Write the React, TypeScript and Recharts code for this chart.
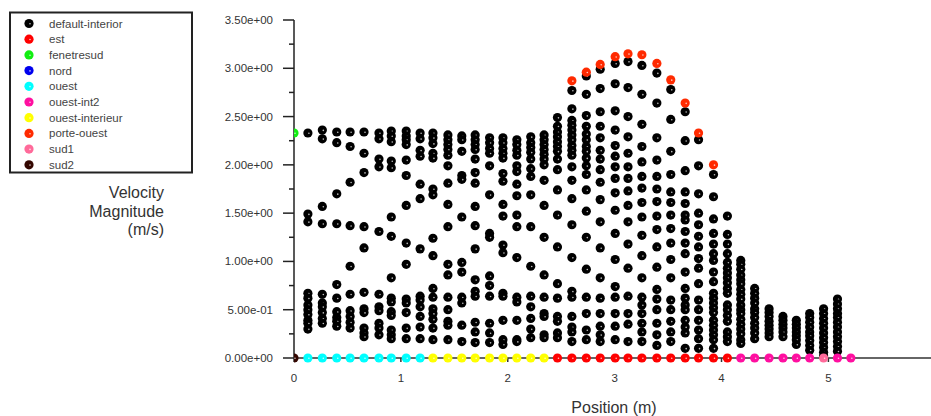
import React from "react";
import { ScatterChart, Scatter, XAxis, YAxis } from "recharts";

// x positions (m) of the sampling columns
const columnX = [
  0.13, 0.265, 0.4, 0.525, 0.655, 0.795, 0.91, 1.05, 1.18, 1.3, 1.44, 1.57, 1.695,
  1.83, 1.955, 2.085, 2.215, 2.34, 2.465, 2.6, 2.735, 2.865, 3.005, 3.125, 3.255,
  3.395, 3.525, 3.66, 3.785, 3.925, 4.055, 4.18, 4.31, 4.445, 4.575, 4.7, 4.825,
  4.955, 5.085,
];

// default-interior velocity magnitudes (m/s), one list per column
const interiorVelocity: number[][] = [
  [2.33, 1.49, 1.41, 0.67, 0.62, 0.55, 0.5, 0.45, 0.39, 0.36, 0.3],
  [2.36, 2.27, 1.57, 1.39, 0.66, 0.57, 0.53, 0.47, 0.41, 0.36],
  [2.34, 2.23, 1.7, 1.39, 0.76, 0.62, 0.48, 0.42, 0.38, 0.33],
  [2.34, 2.19, 1.82, 1.37, 0.95, 0.66, 0.49, 0.43, 0.37, 0.31],
  [2.34, 2.12, 1.92, 1.36, 1.14, 0.68, 0.51, 0.47, 0.31, 0.26, 0.22],
  [2.33, 2.27, 2.06, 1.98, 1.31, 0.66, 0.53, 0.49, 0.36, 0.31, 0.24],
  [2.35, 2.3, 2.24, 2.04, 1.97, 1.46, 1.26, 0.83, 0.62, 0.58, 0.48, 0.44, 0.29, 0.24, 0.2],
  [2.35, 2.3, 2.26, 2.21, 2.05, 1.89, 1.58, 1.19, 0.97, 0.61, 0.57, 0.47, 0.31, 0.2],
  [2.33, 2.27, 2.15, 2.09, 1.8, 1.65, 1.13, 0.64, 0.6, 0.53, 0.43, 0.32, 0.2],
  [2.33, 2.28, 2.22, 2.12, 2.07, 1.75, 1.69, 1.24, 1.06, 0.72, 0.63, 0.51, 0.46, 0.4, 0.31, 0.19],
  [2.31, 2.26, 2.21, 2.16, 2.1, 1.99, 1.81, 1.59, 1.36, 0.97, 0.86, 0.63, 0.5, 0.38, 0.34, 0.19],
  [2.3, 2.26, 2.14, 1.89, 1.85, 1.46, 0.99, 0.89, 0.63, 0.57, 0.34, 0.17],
  [2.31, 2.26, 2.21, 2.16, 2.06, 1.92, 1.81, 1.57, 1.37, 1.13, 0.81, 0.69, 0.64, 0.37, 0.27, 0.16],
  [2.28, 2.23, 2.17, 2.12, 1.99, 1.69, 1.29, 1.25, 0.85, 0.75, 0.64, 0.36, 0.26, 0.16],
  [2.28, 2.23, 2.17, 2.12, 2.07, 1.91, 1.83, 1.59, 1.47, 1.17, 1.09, 0.67, 0.64, 0.39, 0.19, 0.14],
  [2.26, 2.21, 2.15, 2.1, 1.99, 1.93, 1.8, 1.68, 1.48, 1.36, 1.04, 0.63, 0.58, 0.39, 0.19, 0.17],
  [2.29, 2.23, 2.18, 2.13, 2.06, 1.96, 1.88, 1.69, 1.36, 0.95, 0.64, 0.53, 0.41, 0.3, 0.21],
  [2.31, 2.26, 2.21, 2.16, 2.11, 2.06, 2.0, 1.84, 1.58, 1.25, 0.86, 0.63, 0.46, 0.43, 0.24, 0.21],
  [2.49, 2.4, 2.34, 2.29, 2.24, 2.19, 2.14, 2.06, 1.95, 1.74, 1.48, 1.15, 0.77, 0.62, 0.43, 0.38, 0.26, 0.21],
  [2.77, 2.58, 2.46, 2.41, 2.36, 2.31, 2.26, 2.2, 2.15, 2.1, 1.98, 1.84, 1.65, 1.38, 1.04, 0.69, 0.63, 0.43, 0.32, 0.27, 0.17],
  [2.92, 2.73, 2.51, 2.4, 2.32, 2.26, 2.19, 2.14, 2.07, 1.99, 1.9, 1.74, 1.52, 1.25, 0.92, 0.63, 0.46, 0.29, 0.19],
  [2.99, 2.79, 2.55, 2.4, 2.28, 2.15, 2.06, 1.95, 1.82, 1.64, 1.41, 1.14, 0.83, 0.62, 0.46, 0.33, 0.24, 0.17],
  [3.05, 2.84, 2.56, 2.36, 2.2, 2.09, 1.98, 1.86, 1.71, 1.53, 1.29, 1.02, 0.74, 0.63, 0.46, 0.33, 0.19],
  [3.07, 2.8, 2.5, 2.29, 2.12, 1.98, 1.86, 1.73, 1.58, 1.41, 1.18, 0.93, 0.64, 0.46, 0.35, 0.17],
  [3.03, 2.73, 2.42, 2.19, 2.03, 1.88, 1.76, 1.61, 1.46, 1.27, 1.06, 0.83, 0.63, 0.55, 0.46, 0.36, 0.27, 0.17],
  [2.95, 2.64, 2.28, 2.05, 1.88, 1.75, 1.62, 1.47, 1.33, 1.15, 0.94, 0.71, 0.61, 0.5, 0.36, 0.24, 0.13],
  [2.78, 2.47, 2.14, 1.9, 1.72, 1.61, 1.48, 1.34, 1.19, 1.02, 0.83, 0.6, 0.5, 0.38, 0.27, 0.17],
  [2.55, 2.25, 1.94, 1.72, 1.6, 1.48, 1.43, 1.31, 1.19, 1.08, 0.89, 0.72, 0.62, 0.55, 0.5, 0.39, 0.32, 0.26, 0.1],
  [2.26, 1.99, 1.7, 1.5, 1.38, 1.26, 1.15, 1.03, 0.93, 0.77, 0.6, 0.5, 0.39, 0.29, 0.2, 0.1],
  [1.9, 1.67, 1.44, 1.29, 1.18, 1.08, 1.01, 0.89, 0.79, 0.67, 0.62, 0.57, 0.52, 0.47, 0.39, 0.34, 0.29, 0.24, 0.19, 0.1],
  [1.47, 1.28, 1.18, 1.08, 0.99, 0.93, 0.88, 0.83, 0.78, 0.72, 0.67, 0.55, 0.5, 0.44, 0.38, 0.27, 0.22, 0.17],
  [1.01, 0.97, 0.92, 0.86, 0.81, 0.77, 0.71, 0.66, 0.61, 0.55, 0.5, 0.46, 0.4, 0.35, 0.3, 0.25, 0.19, 0.15],
  [0.72, 0.67, 0.62, 0.57, 0.51, 0.47, 0.42, 0.36, 0.31, 0.26, 0.2],
  [0.51, 0.47, 0.43, 0.38, 0.34, 0.3, 0.26, 0.22],
  [0.43, 0.39, 0.35, 0.31, 0.27, 0.22],
  [0.39, 0.35, 0.31, 0.27, 0.23, 0.19, 0.14],
  [0.46, 0.42, 0.37, 0.32, 0.27, 0.23, 0.18, 0.13, 0.08],
  [0.51, 0.46, 0.41, 0.36, 0.31, 0.26, 0.21, 0.16, 0.11, 0.06, 0.02],
  [0.61, 0.56, 0.51, 0.46, 0.42, 0.37, 0.32, 0.27, 0.22, 0.17, 0.12, 0.07],
];

// porte-ouest
const porteOuestX = [2.6, 2.735, 2.865, 3.005, 3.125, 3.255, 3.395, 3.525, 3.66, 3.785, 3.925];
const porteOuestY = [2.87, 2.96, 3.04, 3.12, 3.15, 3.14, 3.05, 2.88, 2.64, 2.33, 2.0];

// wall zones (zero velocity)
const ouestX = [0.13, 0.265, 0.4, 0.525, 0.655, 0.795, 0.91, 1.05, 1.18];
const ouestInterieurX = [1.3, 1.44, 1.57, 1.695, 1.83, 1.955, 2.085, 2.215, 2.34];
const estX = [2.465, 2.6, 2.735, 2.865, 3.005, 3.125, 3.255, 3.395, 3.525, 3.66, 3.785, 3.925, 4.055];
const ouestInt2X = [4.18, 4.31, 4.445, 4.575, 4.7, 4.825, 5.085, 5.21];
const sud1X = [4.955];
const sud2X = [0];
const nordX: number[] = [];
const fenetresudX = [0];
const fenetresudY = [2.33];

const xTicks = [0, 1, 2, 3, 4, 5];
const yTicks = [0, 0.25, 0.5, 0.75, 1, 1.25, 1.5, 1.75, 2, 2.25, 2.5, 2.75, 3, 3.25, 3.5];

const pts = (xs: number[], ys?: number[]) => xs.map((x, i) => ({ x, y: ys ? ys[i] : 0 }));

const interiorData = columnX.flatMap((x, i) => interiorVelocity[i].map((y) => ({ x, y })));

const legendItems = [
  { name: "default-interior", color: "#000000" },
  { name: "est", color: "#ff0000" },
  { name: "fenetresud", color: "#11ee11" },
  { name: "nord", color: "#0000ee" },
  { name: "ouest", color: "#00ffff" },
  { name: "ouest-int2", color: "#ff0fa0" },
  { name: "ouest-interieur", color: "#ffff00" },
  { name: "porte-ouest", color: "#ff2a00" },
  { name: "sud1", color: "#ff6a9a" },
  { name: "sud2", color: "#330600" },
];
const colorOf = (n: string) => legendItems.find((l) => l.name === n)!.color;

const FONT = "'Liberation Sans', Arial, sans-serif";

const sci = (v: number) => {
  if (v === 0) return "0.00e+00";
  const e = Math.floor(Math.log10(v) + 1e-9);
  const m = v / Math.pow(10, e);
  return `${m.toFixed(2)}e${e < 0 ? "-" : "+"}${String(Math.abs(e)).padStart(2, "0")}`;
};

const Marker = ({ cx, cy, fill }: any) => (
  <g>
    <circle cx={cx} cy={cy} r={4.6} fill={fill} />
    <circle cx={cx + 1} cy={cy + 0.3} r={0.8} fill="#fff" opacity={0.75} />
  </g>
);

const YTick = ({ x, y, payload }: any) => {
  const v = payload.value as number;
  const major = Math.abs(v * 2 - Math.round(v * 2)) < 1e-6;
  return (
    <g>
      <line x1={x - (major ? 11 : 5)} x2={x} y1={y} y2={y} stroke="#222" strokeWidth={1.5} />
      {major && (
        <text x={x - 21} y={y} dy="0.35em" textAnchor="end" fontSize={11.5} fontFamily={FONT} fill="#333">
          {sci(v)}
        </text>
      )}
    </g>
  );
};

export default function App() {
  return (
    <div style={{ position: "absolute", left: 0, top: 0, width: 931, height: 416, background: "#fff" }}>
      <ScatterChart width={931} height={416} margin={{ top: 20, right: 0, bottom: 0, left: 0 }}>
        <XAxis
          type="number"
          dataKey="x"
          domain={[0, 5.96]}
          ticks={xTicks}
          allowDataOverflow
          height={58}
          stroke="#333"
          strokeWidth={1.5}
          tickSize={4}
          tickMargin={12}
          tick={{ fontSize: 11.5, fontFamily: FONT, fill: "#333" }}
        />
        <YAxis
          type="number"
          dataKey="y"
          domain={[0, 3.5]}
          ticks={yTicks}
          width={294}
          stroke="#222"
          strokeWidth={1.5}
          tickLine={false}
          tickSize={0}
          tickMargin={0}
          tick={<YTick />}
          interval={0}
        />
        <Scatter data={interiorData} fill={colorOf("default-interior")} shape={<Marker />} isAnimationActive={false} />
        <Scatter data={pts(porteOuestX, porteOuestY)} fill={colorOf("porte-ouest")} shape={<Marker />} isAnimationActive={false} />
        <Scatter data={pts(fenetresudX, fenetresudY)} fill={colorOf("fenetresud")} shape={<Marker />} isAnimationActive={false} />
        <Scatter data={pts(nordX)} fill={colorOf("nord")} shape={<Marker />} isAnimationActive={false} />
        <Scatter data={pts(ouestX)} fill={colorOf("ouest")} shape={<Marker />} isAnimationActive={false} />
        <Scatter data={pts(ouestInterieurX)} fill={colorOf("ouest-interieur")} shape={<Marker />} isAnimationActive={false} />
        <Scatter data={pts(estX)} fill={colorOf("est")} shape={<Marker />} isAnimationActive={false} />
        <Scatter data={pts(ouestInt2X)} fill={colorOf("ouest-int2")} shape={<Marker />} isAnimationActive={false} />
        <Scatter data={pts(sud1X)} fill={colorOf("sud1")} shape={<Marker />} isAnimationActive={false} />
        <Scatter data={pts(sud2X)} fill={colorOf("sud2")} shape={<Marker />} isAnimationActive={false} />
      </ScatterChart>

      <svg width={931} height={416} style={{ position: "absolute", left: 0, top: 0, pointerEvents: "none" }}>
        <rect x={10} y={12.5} width={182} height={160} fill="none" stroke="#222" strokeWidth={2} />
        {legendItems.map((item, i) => {
          const cy = 23.5 + i * 15.7;
          return (
            <g key={item.name}>
              <Marker cx={29} cy={cy} fill={item.color} />
              <text x={49} y={cy + 4} fontSize={11.5} fontFamily={FONT} fill="#444">
                {item.name}
              </text>
            </g>
          );
        })}
        <g fontSize={16} fontFamily={FONT} fill="#333" textAnchor="end">
          <text x={164} y={198}>Velocity</text>
          <text x={164} y={216.5}>Magnitude</text>
          <text x={164} y={235}>(m/s)</text>
        </g>
        <text x={614} y={413} fontSize={16} fontFamily={FONT} fill="#333" textAnchor="middle">
          Position (m)
        </text>
      </svg>
    </div>
  );
}
